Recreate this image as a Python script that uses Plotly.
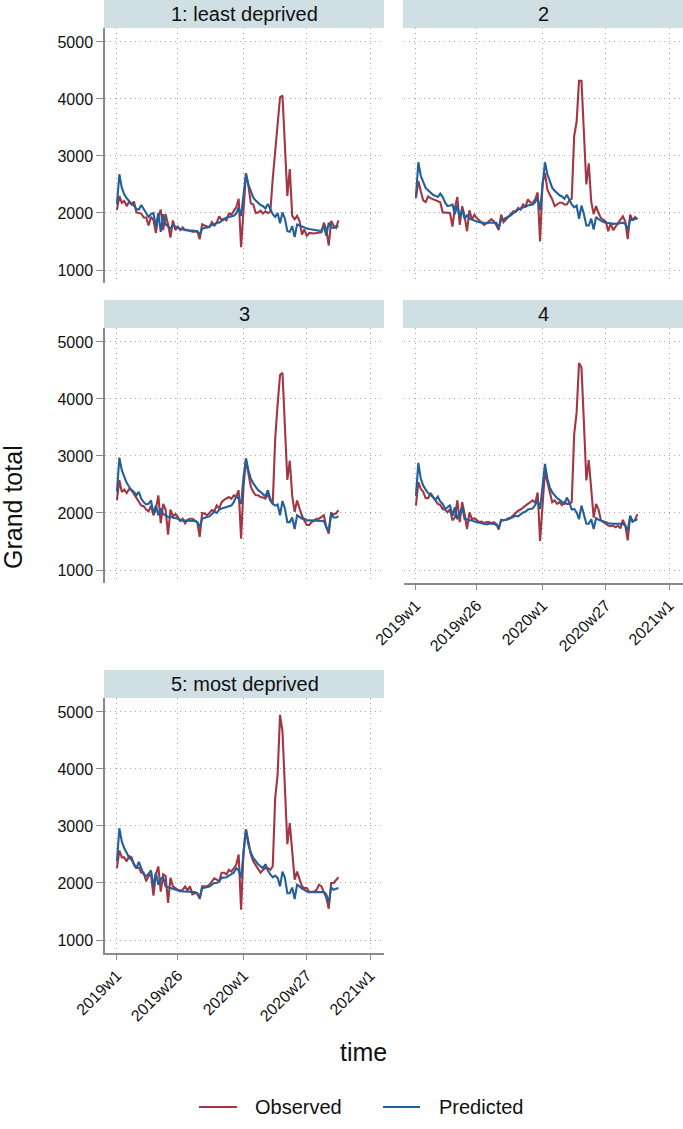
import plotly.graph_objects as go

# ---- data ----
weeks = list(range(92))  # 2019w1 .. 2020w40 (index 0 = 2019w1)
tick_vals = [0, 25, 52, 78, 104]
tick_text = ["2019w1", "2019w26", "2020w1", "2020w27", "2021w1"]
y_ticks = [1000, 2000, 3000, 4000, 5000]
panel_titles = ["1: least deprived", "2", "3", "4", "5: most deprived"]
series_names = ["Observed", "Predicted"]

obs1 = [2050, 2300, 2180, 2210, 2120, 2200, 2150, 2200, 2010, 2000,
        1990, 1920, 1920, 1780, 1930, 1880, 1650, 1940, 2060, 1700,
        1980, 1800, 1570, 1870, 1700, 1760, 1700, 1750, 1700, 1700,
        1680, 1670, 1670, 1680, 1540, 1800, 1780, 1770, 1750, 1840,
        1780, 1830, 1940, 1880, 1900, 1870, 1990, 1970, 2030, 2100,
        2250, 1400, 2050, 2700, 2480, 2170, 2150, 2000, 2010, 2040,
        1990, 2030, 2000, 2020, 2600, 3050, 3550, 4030, 4060, 3200,
        2300, 2770, 1950, 1890, 1950, 1860, 1620, 1710, 1600, 1650,
        1640, 1640, 1650, 1650, 1660, 1830, 1710, 1430, 1860, 1780,
        1740, 1870]
pred1 = [2150, 2680, 2440, 2330, 2260, 2200, 2160, 2130, 2070, 2060,
         2140, 2070, 1990, 1930, 1980, 2000, 1760, 2000, 1670, 1980,
         1800, 1760, 1730, 1780, 1760, 1730, 1720, 1710, 1700, 1690,
         1690, 1690, 1690, 1680, 1620, 1720, 1740, 1740, 1760, 1790,
         1800, 1830, 1830, 1860, 1900, 1920, 1930, 1940, 1950, 1990,
         2100, 1950, 2300, 2680, 2500, 2370, 2270, 2220, 2180, 2140,
         2120, 2080, 2160, 2080, 1980, 1930, 2000, 1820, 2010, 1900,
         1680, 1670, 1770, 1580, 1800, 1780, 1760, 1740, 1730, 1720,
         1710, 1700, 1690, 1690, 1690, 1770, 1600, 1830, 1750, 1740,
         1760, 1770]

obs2 = [2260, 2560, 2380, 2220, 2190, 2290, 2260, 2240, 2220, 2200,
        2190, 2010, 2010, 2000, 2000, 1760, 2090, 2280, 1790, 2120,
        1940, 1680, 2050, 1880, 1970, 1910, 1870, 1840, 1790, 1820,
        1850, 1890, 1850, 1790, 1700, 1970, 1840, 1890, 1940, 1970,
        2030, 2030, 2090, 2060, 2150, 2110, 2240, 2180, 2180, 2240,
        2360, 1500, 2530, 2700, 2410, 2320, 2240, 2120, 2150, 2180,
        2180, 2150, 2150, 2220, 2250, 3350, 3600, 4320, 4320, 3300,
        2500, 2870, 2200, 1980, 2120, 2000, 1910, 1880, 1850, 1680,
        1820, 1700, 1760, 1820, 1880, 1940, 1850, 1540, 1970, 1870,
        1930, 1890]
pred2 = [2290, 2890, 2650, 2530, 2440, 2400, 2350, 2320, 2300, 2280,
         2340, 2280, 2180, 2120, 2130, 2150, 1980, 2140, 1920, 2060,
         1900, 1960, 1900, 1880, 1870, 1850, 1840, 1830, 1820, 1820,
         1830, 1830, 1840, 1830, 1740, 1880, 1890, 1910, 1940, 1960,
         2000, 2020, 2060, 2080, 2100, 2120, 2130, 2140, 2150, 2190,
         2270, 2050, 2500, 2890, 2680, 2540, 2440, 2390, 2340, 2310,
         2290, 2250, 2320, 2240, 2150, 2100, 2130, 1900, 2130, 1980,
         1780, 1780, 1900, 1710, 1930, 1890, 1860, 1840, 1830, 1830,
         1820, 1810, 1810, 1810, 1820, 1830, 1810, 1700, 1900, 1880,
         1890, 1910]

obs3 = [2220, 2575, 2370, 2410, 2350, 2420, 2400, 2330, 2250, 2180,
        2130, 2120, 2060, 2030, 2130, 1960, 2070, 2310, 1820, 2160,
        2060, 1620, 2060, 1940, 1980, 1930, 1860, 1900, 1820, 1880,
        1900, 1900, 1870, 1840, 1580, 2000, 1990, 1960, 2000, 2050,
        2030, 2130, 2080, 2190, 2230, 2250, 2280, 2250, 2310, 2290,
        2400, 1550, 2460, 2930, 2690, 2460, 2370, 2310, 2310, 2280,
        2270, 2250, 2330, 2220, 2160, 3300, 3900, 4420, 4460, 3500,
        2580, 2920, 2300, 2020, 2220, 2080, 1950, 1870, 1790, 1790,
        1840, 1870, 1900, 1900, 1930, 1960, 1750, 1640, 2000, 1980,
        1990, 2050]
pred3 = [2370, 2970, 2750, 2620, 2530, 2460, 2400, 2370, 2310, 2370,
         2250, 2190, 2150, 2160, 2220, 1990, 2130, 1960, 2080, 1980,
         1960, 1930, 1930, 1920, 1900, 1900, 1870, 1870, 1870, 1860,
         1860, 1870, 1860, 1840, 1750, 1900, 1920, 1930, 1940, 1980,
         2020, 2000, 2060, 2080, 2090, 2100, 2120, 2130, 2190, 2290,
         2250, 2160, 2630, 2960, 2750, 2600, 2520, 2450, 2400, 2370,
         2330, 2290, 2400, 2250, 2160, 2130, 2150, 1960, 2210, 2080,
         1840, 1840, 1920, 1720, 1960, 1930, 1900, 1900, 1870, 1870,
         1870, 1860, 1860, 1860, 1860, 1860, 1750, 1700, 2000, 1920,
         1920, 1940]

obs4 = [2130, 2540, 2420, 2370, 2260, 2260, 2350, 2290, 2220, 2160,
        2140, 2070, 2060, 2010, 2070, 1870, 1920, 2220, 1840, 2190,
        1980, 1720, 2010, 1890, 1910, 1880, 1840, 1850, 1820, 1840,
        1840, 1820, 1840, 1810, 1710, 1880, 1870, 1880, 1910, 1920,
        1960, 2010, 2040, 2060, 2100, 2130, 2160, 2190, 2220, 2180,
        2360, 1510, 2200, 2740, 2540, 2360, 2190, 2220, 2160, 2190,
        2140, 2190, 2160, 2160, 2190, 3380, 3760, 4630, 4550, 3590,
        2570, 2930, 2420, 1920, 2160, 2060, 1870, 1840, 1810, 1780,
        1770, 1780, 1750, 1780, 1730, 1880, 1780, 1520, 1950, 1850,
        1880, 1980]
pred4 = [2300, 2880, 2600, 2480, 2410, 2350, 2320, 2270, 2230, 2290,
         2200, 2160, 2070, 2100, 2140, 1950, 2100, 1890, 2010, 2100,
         1890, 1890, 1870, 1870, 1850, 1840, 1820, 1810, 1810, 1800,
         1810, 1810, 1810, 1790, 1750, 1870, 1870, 1880, 1890, 1910,
         1920, 1950, 1940, 1980, 2010, 2020, 2060, 2070, 2080, 2140,
         2220, 2070, 2420, 2860, 2600, 2450, 2360, 2300, 2260, 2230,
         2190, 2160, 2270, 2190, 2060, 2070, 2010, 1890, 2130, 1980,
         1810, 1810, 1890, 1720, 1910, 1880, 1870, 1850, 1840, 1820,
         1810, 1810, 1810, 1810, 1810, 1810, 1780, 1690, 1950, 1850,
         1870, 1890]

obs5 = [2260, 2570, 2450, 2450, 2380, 2470, 2450, 2320, 2260, 2270,
        2180, 2180, 2030, 2120, 2150, 1780, 2150, 2290, 1850, 2150,
        2120, 1650, 2090, 1940, 1910, 1880, 1850, 1880, 1940, 1870,
        1940, 1800, 1820, 1820, 1720, 1940, 1940, 1940, 1970, 2030,
        2080, 2060, 2030, 2180, 2180, 2150, 2230, 2200, 2260, 2320,
        2500, 1530, 2560, 2940, 2730, 2500, 2380, 2320, 2250, 2180,
        2230, 2260, 2260, 2230, 2290, 3490, 3900, 4950, 4660, 3670,
        2680, 3050, 2560, 2060, 2200, 2060, 1940, 1910, 1910, 1840,
        1850, 1850, 1880, 1970, 1940, 1850, 1740, 1550, 2000, 2000,
        2060, 2100]
pred5 = [2380, 2960, 2730, 2610, 2530, 2440, 2410, 2330, 2260, 2370,
         2260, 2150, 2120, 2160, 2220, 1940, 2180, 1970, 2080, 2090,
         1940, 1920, 1910, 1900, 1880, 1870, 1870, 1850, 1850, 1850,
         1850, 1840, 1840, 1820, 1740, 1910, 1920, 1940, 1940, 1970,
         2000, 2000, 2030, 2090, 2100, 2100, 2130, 2150, 2180, 2260,
         2220, 2090, 2560, 2940, 2670, 2530, 2440, 2380, 2330, 2290,
         2260, 2330, 2220, 2150, 2100, 2130, 2090, 1940, 2200, 2090,
         1820, 1820, 1920, 1720, 1970, 1940, 1900, 1880, 1850, 1840,
         1840, 1840, 1840, 1840, 1840, 1840, 1800, 1650, 1920, 1880,
         1900, 1910]

observed = [obs1, obs2, obs3, obs4, obs5]
predicted = [pred1, pred2, pred3, pred4, pred5]

# ---- style / layout ----
W, H = 683, 1129
RED = "#A23742"
BLUE = "#23609A"
STRIP = "#D0DFE4"
GRID = "#A6A6A6"
AXIS = "#8A8A8A"
TXT = "#111111"
FONT = "Liberation Sans, Arial, Helvetica, sans-serif"

# pixel boxes (left, right, top, bottom) of each plot region
boxes = [
    (105, 384, 28, 283),
    (404, 683, 28, 283),
    (105, 384, 328, 583),
    (404, 683, 328, 583),
    (105, 384, 698, 953),
]
strip_h = 28
show_y = [True, False, True, False, True]
show_x = [False, False, False, True, True]

fig = go.Figure()
layout = dict(
    width=W, height=H,
    margin=dict(l=0, r=0, t=0, b=0, autoexpand=False),
    paper_bgcolor="white", plot_bgcolor="white",
    font=dict(family=FONT, color=TXT),
    showlegend=False,
)
shapes = []
annotations = []

for i in range(5):
    l, r, t, b = boxes[i]
    sfx = "" if i == 0 else str(i + 1)
    xa = "x" + sfx
    ya = "y" + sfx
    fig.add_trace(go.Scatter(x=weeks, y=observed[i], mode="lines",
                             line=dict(color=RED, width=2.1),
                             name=series_names[0], xaxis=xa, yaxis=ya))
    fig.add_trace(go.Scatter(x=weeks, y=predicted[i], mode="lines",
                             line=dict(color=BLUE, width=2.1),
                             name=series_names[1], xaxis=xa, yaxis=ya))
    layout["xaxis" + sfx] = dict(
        domain=[l / W, r / W], anchor=ya, range=[-4.9, 109.7],
        automargin=False,
        tickvals=tick_vals, ticktext=tick_text, tickangle=-45,
        showgrid=True, gridcolor=GRID, griddash="1px,4px", gridwidth=1,
        zeroline=False,
        showline=show_x[i], linecolor=AXIS, linewidth=1.5,
        ticks="outside" if show_x[i] else "", ticklen=5, tickcolor=AXIS,
        showticklabels=show_x[i],
        tickfont=dict(size=16, family=FONT, color=TXT),
    )
    layout["yaxis" + sfx] = dict(
        domain=[1 - b / H, 1 - t / H], anchor=xa, range=[772, 5245],
        automargin=False,
        tickvals=y_ticks,
        showgrid=True, gridcolor=GRID, griddash="1px,4px", gridwidth=1,
        zeroline=False,
        showline=show_y[i], linecolor=AXIS, linewidth=1.5,
        ticks="outside" if show_y[i] else "", ticklen=7, tickcolor=AXIS,
        showticklabels=show_y[i],
        tickfont=dict(size=16, family=FONT, color=TXT),
    )
    # strip header
    shapes.append(dict(type="rect", xref="paper", yref="paper",
                       x0=(l - 1) / W, x1=r / W,
                       y0=1 - t / H, y1=1 - (t - strip_h) / H,
                       fillcolor=STRIP, line=dict(width=0), layer="below"))
    annotations.append(dict(text=panel_titles[i], xref="paper", yref="paper",
                            x=(l + r) / 2 / W, y=1 - (t - strip_h / 2) / H,
                            xanchor="center", yanchor="middle",
                            showarrow=False,
                            font=dict(size=20, family=FONT, color=TXT)))

annotations.append(dict(text="Grand total", xref="paper", yref="paper",
                        x=13 / W, y=1 - 507 / H, textangle=-90,
                        xanchor="center", yanchor="middle", showarrow=False,
                        font=dict(size=25, family=FONT, color=TXT)))
annotations.append(dict(text="time", xref="paper", yref="paper",
                        x=363 / W, y=1 - 1052 / H,
                        xanchor="center", yanchor="middle", showarrow=False,
                        font=dict(size=25, family=FONT, color=TXT)))

# legend (key lines + labels)
legend_items = [(199, 237, 253, RED, series_names[0]),
                (383, 420, 437, BLUE, series_names[1])]
ly = 1 - 1107 / H
for x0, x1, tx, col, lab in legend_items:
    shapes.append(dict(type="line", xref="paper", yref="paper",
                       x0=x0 / W, x1=x1 / W, y0=ly, y1=ly,
                       line=dict(color=col, width=2)))
    annotations.append(dict(text=lab, xref="paper", yref="paper",
                            x=tx / W, y=ly, xanchor="left", yanchor="middle",
                            showarrow=False,
                            font=dict(size=20, family=FONT, color=TXT)))

layout["shapes"] = shapes
layout["annotations"] = annotations
fig.update_layout(**layout)
fig.write_html(
    "out.html",
    config={"displayModeBar": False},
    post_script="document.body.style.margin='0';document.body.style.overflow='hidden';",
)
